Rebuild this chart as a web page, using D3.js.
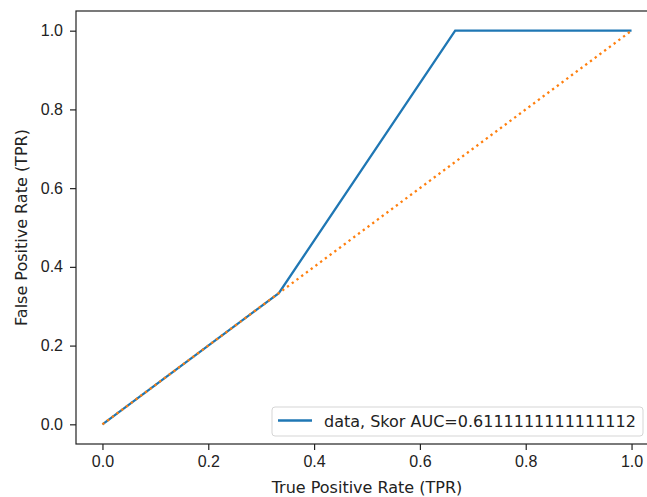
<!DOCTYPE html>
<html>
<head>
<meta charset="utf-8">
<script src="https://cdn.jsdelivr.net/npm/d3@7"></script>
<style>
  body { margin: 0; background: #fff; overflow: hidden; }
  svg { display: block; font-family: "DejaVu Sans", sans-serif; }
</style>
</head>
<body>
<div id="chart"></div>
<script>
// ROC curve data
const fpr = [0, 1 / 3, 2 / 3, 1];
const tpr = [0, 1 / 3, 1, 1];
const diagX = [0, 1];
const diagY = [0, 1];
const ticks = [0, 0.2, 0.4, 0.6, 0.8, 1.0];
const legendLabel = 'data, Skor AUC=0.6111111111111112';

const width = 647, height = 497;
const plot = { left: 76, right: 658, top: 11, bottom: 444 };
const fontSize = '16px';

const svg = d3.select('#chart').append('svg')
    .attr('width', width)
    .attr('height', height);

// 5% margins like matplotlib
const x = d3.scaleLinear().domain([-0.05, 1.05]).range([plot.left, plot.right]);
const y = d3.scaleLinear().domain([-0.05, 1.05]).range([plot.bottom, plot.top]);

// Axes
const xAxis = d3.axisBottom(x).tickValues(ticks).tickFormat(d3.format('.1f')).tickSize(6).tickPadding(6);
const yAxis = d3.axisLeft(y).tickValues(ticks).tickFormat(d3.format('.1f')).tickSize(6).tickPadding(7);

const gx = svg.append('g').attr('transform', `translate(0,${plot.bottom})`).call(xAxis);
const gy = svg.append('g').attr('transform', `translate(${plot.left},0)`).call(yAxis);
[gx, gy].forEach(g => {
    g.select('.domain').remove();
    g.selectAll('.tick line').attr('stroke', '#222').attr('stroke-width', 1.2);
    g.selectAll('.tick text').attr('fill', '#222').style('font-size', fontSize);
});

// Frame
svg.append('rect')
    .attr('x', plot.left)
    .attr('y', plot.top)
    .attr('width', plot.right - plot.left)
    .attr('height', plot.bottom - plot.top)
    .attr('fill', 'none')
    .attr('stroke', '#222')
    .attr('stroke-width', 1.2);

const line = d3.line().x(d => x(d[0])).y(d => y(d[1]));

// ROC curve
svg.append('path')
    .datum(fpr.map((v, i) => [v, tpr[i]]))
    .attr('d', line)
    .attr('fill', 'none')
    .attr('stroke', '#1f77b4')
    .attr('stroke-width', 2.3);

// Chance line
svg.append('path')
    .datum(diagX.map((v, i) => [v, diagY[i]]))
    .attr('d', line)
    .attr('fill', 'none')
    .attr('stroke', '#ff7f0e')
    .attr('stroke-width', 2.3)
    .attr('stroke-dasharray', '2.3,3.6');

// Axis labels
svg.append('text')
    .attr('x', (plot.left + plot.right) / 2)
    .attr('y', 493)
    .attr('text-anchor', 'middle')
    .style('font-size', fontSize)
    .attr('fill', '#222')
    .text('True Positive Rate (TPR)');

svg.append('text')
    .attr('transform', `translate(27,${(plot.top + plot.bottom) / 2}) rotate(-90)`)
    .attr('text-anchor', 'middle')
    .style('font-size', fontSize)
    .attr('fill', '#222')
    .text('False Positive Rate (TPR)');

// Legend
const legend = svg.append('g').attr('transform', 'translate(272,407)');
legend.append('rect')
    .attr('width', 371)
    .attr('height', 29)
    .attr('rx', 3)
    .attr('fill', 'rgba(255,255,255,0.8)')
    .attr('stroke', '#d5d5d5');
legend.append('line')
    .attr('x1', 6).attr('x2', 40)
    .attr('y1', 13.5).attr('y2', 13.5)
    .attr('stroke', '#1f77b4')
    .attr('stroke-width', 2.3);
legend.append('text')
    .attr('x', 52)
    .attr('y', 20)
    .style('font-size', fontSize)
    .attr('fill', '#222')
    .text(legendLabel);
</script>
</body>
</html>
